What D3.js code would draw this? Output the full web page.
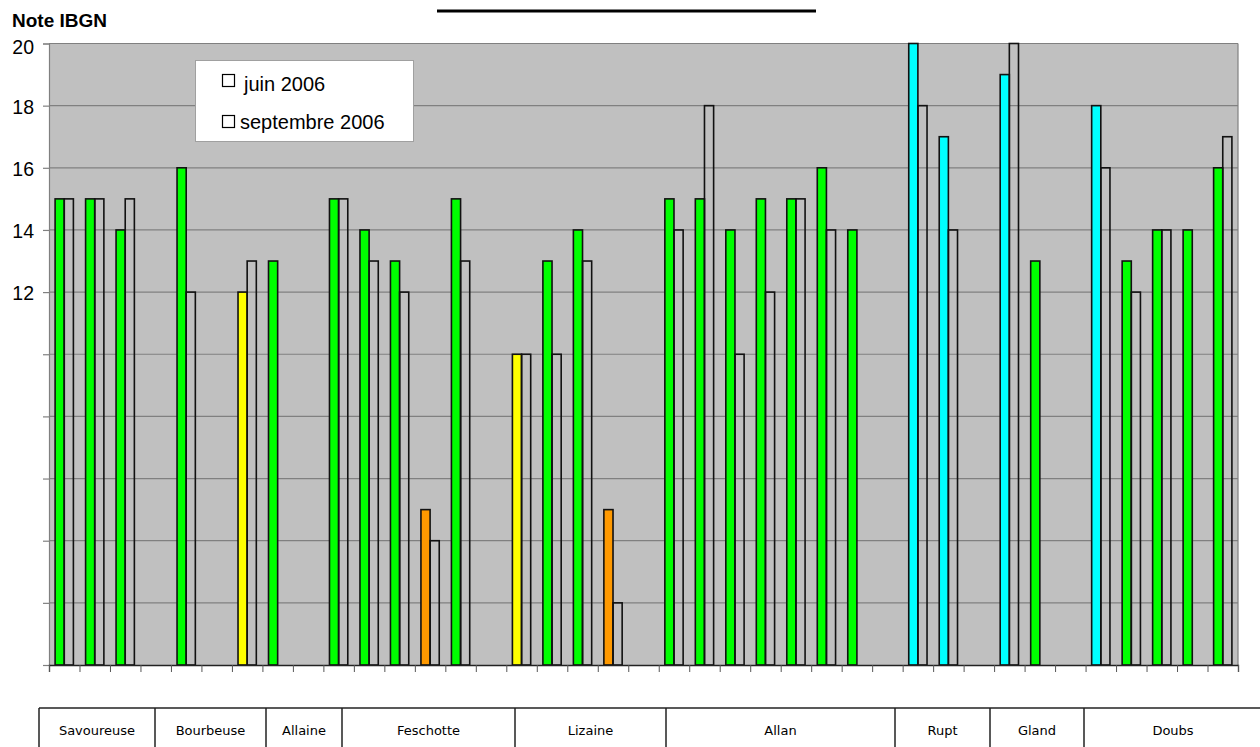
<!DOCTYPE html>
<html>
<head>
<meta charset="utf-8">
<script src="https://cdn.jsdelivr.net/npm/d3@7"></script>
<style>
  html, body { margin: 0; padding: 0; background: #fff; }
  svg { display: block; }
</style>
</head>
<body>
<svg id="chart" width="1260" height="747"></svg>
<script>
// Stations (slots along the x axis), grouped by river; null = no sample
const slots = d3.range(39);
const juin2006 = [15, 15, 14, null, 16, null, 12, 13, null, 15, 14, 13, 5, 15, null,
                  10, 13, 14, 5, null, 15, 15, 14, 15, 15, 16, 14, null, 20, 17,
                  null, 19, 13, null, 18, 13, 14, 14, 16];
const septembre2006 = [15, 15, 15, null, 12, null, 13, null, null, 15, 13, 12, 4, 13, null,
                       10, 10, 13, 2, null, 14, 18, 10, 12, 15, 14, null, null, 18, 14,
                       null, 20, null, null, 16, 12, 14, null, 17];
const seriesNames = ["juin 2006", "septembre 2006"];
const rivers = ["Savoureuse", "Bourbeuse", "Allaine", "Feschotte", "Lizaine", "Allan", "Rupt", "Gland", "Doubs"];
const yTicks = [0, 2, 4, 6, 8, 10, 12, 14, 16, 18, 20];

// IBGN quality classes: mauvaise, médiocre, passable, bonne, très bonne
const classColor = d3.scaleThreshold()
  .domain([5, 9, 13, 17])
  .range(["#ff0000", "#ff9900", "#ffff00", "#00ff00", "#00ffff"]);

const svg = d3.select("#chart");
const plot = { left: 49, right: 1238, top: 43.5, bottom: 665 };

const x = d3.scaleBand().domain(slots).range([plot.left, plot.right]).padding(0);
const xBound = d3.scaleLinear().domain([0, slots.length]).range([plot.left, plot.right]);
const xSub = d3.scaleBand().domain(seriesNames).range([0, x.bandwidth()])
  .paddingInner(0).paddingOuter(2 / 3);
const y = d3.scaleLinear().domain([0, 20]).range([plot.bottom, plot.top]);

// plot background
svg.append("rect")
  .attr("x", plot.left).attr("y", plot.top)
  .attr("width", plot.right - plot.left).attr("height", plot.bottom - plot.top)
  .attr("fill", "#c0c0c0");

// horizontal grid
svg.append("g").selectAll("line")
  .data(yTicks.filter(d => d > 0))
  .join("line")
  .attr("x1", plot.left).attr("x2", plot.right)
  .attr("y1", d => y(d)).attr("y2", d => y(d))
  .attr("stroke", "#808080").attr("stroke-width", 1.2);

// right border
svg.append("line")
  .attr("x1", plot.right).attr("x2", plot.right)
  .attr("y1", plot.top).attr("y2", plot.bottom)
  .attr("stroke", "#808080").attr("stroke-width", 1.2);

// bars
const rows = slots.map(i => ({ i, juin: juin2006[i], sept: septembre2006[i] }));
const barG = svg.append("g");
barG.selectAll("rect.juin")
  .data(rows.filter(d => d.juin != null))
  .join("rect")
  .attr("class", "juin")
  .attr("x", d => x(d.i) + xSub(seriesNames[0]))
  .attr("width", xSub.bandwidth())
  .attr("y", d => y(d.juin))
  .attr("height", d => y(0) - y(d.juin))
  .attr("fill", d => classColor(d.juin))
  .attr("stroke", "#111").attr("stroke-width", 1.6);
barG.selectAll("rect.sept")
  .data(rows.filter(d => d.sept != null))
  .join("rect")
  .attr("class", "sept")
  .attr("x", d => x(d.i) + xSub(seriesNames[1]))
  .attr("width", xSub.bandwidth())
  .attr("y", d => y(d.sept))
  .attr("height", d => y(0) - y(d.sept))
  .attr("fill", "none")
  .attr("stroke", "#111").attr("stroke-width", 1.6);

// y axis
const yAxis = svg.append("g")
  .attr("transform", `translate(${plot.left},0)`)
  .call(d3.axisLeft(y).tickValues(yTicks).tickSize(6).tickPadding(9)
    .tickFormat(d => d >= 12 ? d : ""));
yAxis.select(".domain").attr("stroke", "#808080").attr("stroke-width", 1.2);
yAxis.selectAll(".tick line").attr("stroke", "#808080").attr("stroke-width", 1.2);
yAxis.selectAll(".tick text")
  .attr("font-family", "Liberation Sans, Arial, sans-serif")
  .attr("font-size", 19.5).attr("fill", "#000")
  .attr("dy", d => d === 20 ? "0.5em" : "0.4em");

// x axis (tick at each slot boundary, no labels)
const xAxis = svg.append("g")
  .attr("transform", `translate(0,${plot.bottom})`)
  .call(d3.axisBottom(xBound).tickValues(d3.range(slots.length + 1)).tickSize(7).tickFormat(""));
xAxis.select(".domain").attr("stroke", "#222").attr("stroke-width", 1.3);
xAxis.selectAll(".tick line").attr("stroke", "#555").attr("stroke-width", 1);

// y title
svg.append("text")
  .attr("x", 12).attr("y", 27)
  .attr("font-family", "Liberation Sans, Arial, sans-serif")
  .attr("font-size", 19).attr("font-weight", "bold")
  .text("Note IBGN");

// heading rule
svg.append("line")
  .attr("x1", 437).attr("x2", 816).attr("y1", 11).attr("y2", 11)
  .attr("stroke", "#000").attr("stroke-width", 3);

// legend
const legend = svg.append("g");
legend.append("rect")
  .attr("x", 195.5).attr("y", 60.5).attr("width", 218).attr("height", 81)
  .attr("fill", "#fff").attr("stroke", "#a0a0a0").attr("stroke-width", 1);
const legendItems = [
  { name: seriesNames[0], sy: 74, tx: 244, ty: 91 },
  { name: seriesNames[1], sy: 115, tx: 240, ty: 129 }
];
legend.selectAll("rect.key")
  .data(legendItems).join("rect")
  .attr("class", "key")
  .attr("x", 222.5).attr("y", d => d.sy + 0.5).attr("width", 12).attr("height", 12)
  .attr("fill", "#fff").attr("stroke", "#000").attr("stroke-width", 1.2);
legend.selectAll("text")
  .data(legendItems).join("text")
  .attr("x", d => d.tx).attr("y", d => d.ty)
  .attr("font-family", "Liberation Sans, Arial, sans-serif")
  .attr("font-size", 20)
  .text(d => d.name);

// river table below the chart
const colEdges = [39, 155, 266, 342, 515, 666, 895, 990, 1084, 1262];
const tableTop = 708;
const table = svg.append("g");
table.append("line")
  .attr("x1", colEdges[0]).attr("x2", colEdges[colEdges.length - 1])
  .attr("y1", tableTop).attr("y2", tableTop)
  .attr("stroke", "#222").attr("stroke-width", 1.5);
table.selectAll("line.col")
  .data(colEdges.slice(0, -1)).join("line")
  .attr("class", "col")
  .attr("x1", d => d).attr("x2", d => d)
  .attr("y1", tableTop).attr("y2", 750)
  .attr("stroke", "#222").attr("stroke-width", 1.5);
table.selectAll("text")
  .data(rivers).join("text")
  .attr("x", (d, i) => (colEdges[i] + colEdges[i + 1]) / 2)
  .attr("y", 735)
  .attr("text-anchor", "middle")
  .attr("font-family", "DejaVu Sans, Verdana, sans-serif")
  .attr("font-size", 13)
  .text(d => d);
</script>
</body>
</html>
